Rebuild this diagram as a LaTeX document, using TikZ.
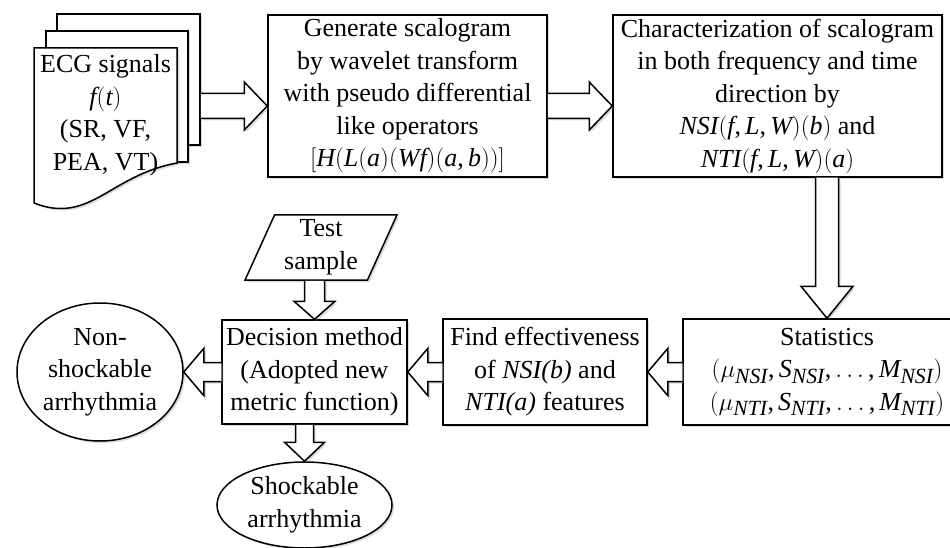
\documentclass[tikz,border=0pt]{standalone}
\usepackage{fontspec}
\setmainfont{Liberation Serif}
\usepackage[italic]{mathastext}
\usetikzlibrary{positioning,calc,shapes.geometric,shadows}

% hollow block arrow: from, to, half shaft width, half head width, head length
\newcommand{\fatarrow}[5]{%
  \coordinate (fa-base) at ($(#2)!#5pt!(#1)$);
  \draw[fatline] ($(#1)!#3pt!90:(#2)$) -- ($(fa-base)!#3pt!90:(#2)$)
    -- ($(fa-base)!#4pt!90:(#2)$) -- (#2) -- ($(fa-base)!#4pt!-90:(#2)$)
    -- ($(fa-base)!#3pt!-90:(#2)$) -- ($(#1)!#3pt!-90:(#2)$);
}

\begin{document}
\begin{tikzpicture}[
  x=1pt, y=-1pt,
  every node/.style={font=\fontsize{26}{32.5}\selectfont},
  shade/.style={drop shadow={shadow xshift=2pt, shadow yshift=-2pt, opacity=0.3}},
  box/.style={
    draw=black,
    line width=1.5pt,
    fill=white,
    align=center,
    inner sep=1pt,
    shade
  },
  oval/.style={box, ellipse},
  io/.style={
    box,
    trapezium,
    trapezium left angle=67,
    trapezium right angle=113,
    trapezium stretches=true
  },
  page/.style={draw=black, line width=1.5pt, fill=white, shade},
  fatline/.style={draw=black, line width=1.5pt, fill=white, line join=miter, shade}
]

\clip (0,0) rectangle (950,548);

% stacked signal pages
\node[page, minimum width=143pt, minimum height=131pt, inner sep=0pt] (ecg3) at (128.5,79.5) {};
\node[page, minimum width=142pt, minimum height=131pt, inner sep=0pt] (ecg2) at (117,96.5) {};
\draw[page] (34,48) -- (177,48) -- (177,163)
  .. controls (110,175) and (90,225) .. (34,203) -- cycle;
\node[align=center, inner sep=0pt] (ecg) at (105.5,115) {ECG signals\\$f(t)$\\(SR, VF,\\PEA, VT)};

% top row
\node[box, minimum width=279pt, minimum height=162pt] (gen) at (407.5,96)
  {Generate scalogram\\by wavelet transform\\with pseudo differential\\like operators\\$[H(L(a)(Wf)(a,b))]$};
\node[box, minimum width=329pt, minimum height=162pt] (char) at (777.5,96)
  {Characterization of scalogram\\in both frequency and time\\direction by\\$NSI(f,L,W)(b)$ and\\$NTI(f,L,W)(a)$};

% middle row
\node[box, minimum width=288pt, minimum height=106pt] (stats) at (827,372)
  {Statistics\\$(\mu_{NSI},S_{NSI},\ldots,M_{NSI})$\\$(\mu_{NTI},S_{NTI},\ldots,M_{NTI})$};
\node[box, minimum width=204pt, minimum height=106pt] (find) at (545,372)
  {Find effectiveness\\of \textit{NSI(b)} and\\\textit{NTI(a)} features};
\node[box, minimum width=185pt, minimum height=104pt] (decision) at (314.5,372)
  {Decision method\\(Adopted new\\metric function)};
\node[io, minimum width=152pt, minimum height=65pt, inner sep=0pt] (test) at (321,247.5)
  {Test\\sample};

% outcomes
\node[oval, minimum width=166pt, minimum height=138pt, inner sep=0pt] (nonshock) at (100,372)
  {Non-\\shockable\\arrhythmia};
\node[oval, minimum width=175pt, minimum height=86pt, inner sep=0pt] (shock) at (304.5,505)
  {Shockable\\arrhythmia};

% block arrows
\coordinate (row1) at (0,106);
\coordinate (a1s) at (ecg3.east |- row1);
\coordinate (a1e) at (gen.west |- row1);
\coordinate (a2s) at (gen.east |- row1);
\coordinate (a2e) at (char.west |- row1);
\coordinate (a3s) at (char.south -| stats.north);
\coordinate (a6s) at (decision.north |- test.south);
\coordinate (a8s) at (decision.south -| shock.north);

\fatarrow{a1s}{a1e}{12.5}{24}{23}
\fatarrow{a2s}{a2e}{12.5}{24}{23}
\fatarrow{a3s}{stats.north}{11.5}{26}{32}
\fatarrow{stats.west}{find.east}{9.5}{23.5}{20}
\fatarrow{find.west}{decision.east}{9.5}{23.5}{20}
\fatarrow{a6s}{decision.north}{10}{20.5}{18}
\fatarrow{decision.west}{nonshock.east}{9.5}{23.5}{20}
\fatarrow{a8s}{shock.north}{9}{20}{19}

\end{tikzpicture}
\end{document}
